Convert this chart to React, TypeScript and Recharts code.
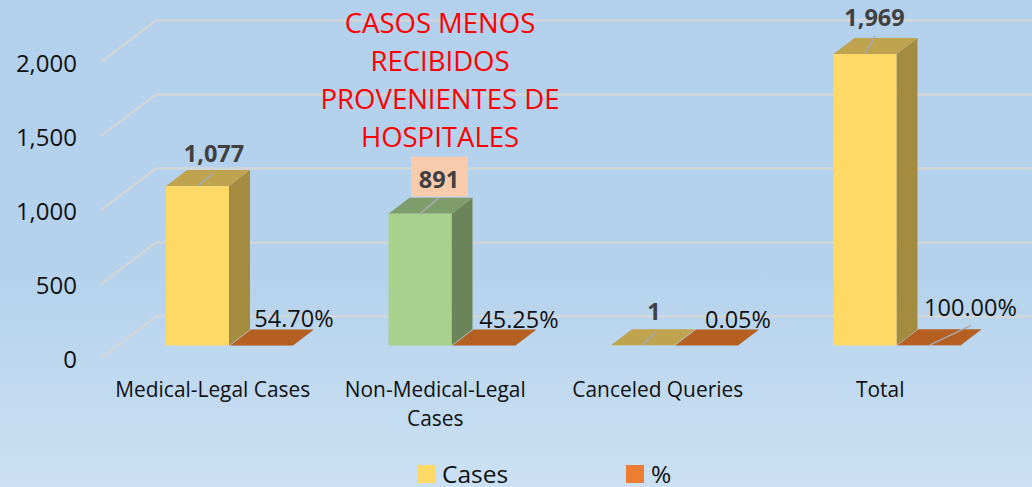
import { Bar, BarChart, CartesianGrid, LabelList, Legend, XAxis, YAxis } from "recharts"

// values
const categories = ["Medical-Legal Cases", "Non-Medical-Legal Cases", "Canceled Queries", "Total"]
const cases = [1077, 891, 1, 1969]
const percent = [0.547, 0.4525, 0.0005, 1]
const yTicks = [0, 500, 1000, 1500, 2000]
const note = ["CASOS MENOS", "RECIBIDOS", "PROVENIENTES DE", "HOSPITALES"]

const data = categories.map((name, i) => ({ name, cases: cases[i], percent: percent[i] }))

const FONT = "'Open Sans', sans-serif"
const DEPTH_X = 21
const DEPTH_Y = 16

// face colours per category for the Cases series
const caseFaces = [
  { front: "#FFD966", top: "#BFA34E", side: "#A38B40" },
  { front: "#A9D18E", top: "#7F9D6B", side: "#6C845A" },
  { front: "#FFD966", top: "#BFA34E", side: "#A38B40" },
  { front: "#FFD966", top: "#BFA34E", side: "#A38B40" },
]
const percentFaces = { front: "#C55A11", top: "#B65F22", side: "#A0521C" }

// hand placed label offsets from the top centre of each bar (dx, dy), leader end optional
const caseLabels = [
  { dx: 16.5, dy: -33, leader: [16, -13] },
  { dx: 19, dy: -35, leader: [19, -16] },
  { dx: 11.5, dy: -34, leader: [13, -13] },
  { dx: 9.5, dy: -37, leader: [10, -18] },
]
const percentLabels = [
  { dx: 32.5, dy: -27 },
  { dx: 35, dy: -26 },
  { dx: 31.5, dy: -26 },
  { dx: 41.5, dy: -38, leader: [42, -20] },
]

function Box3D(props: any) {
  const { x, y, width, height, index, faces } = props
  const f = Array.isArray(faces) ? faces[index] : faces
  const r = x + width
  const b = y + height
  return (
    <g>
      <path d={`M${r},${y}L${r + DEPTH_X},${y - DEPTH_Y}V${b - DEPTH_Y}L${r},${b}Z`} fill={f.side} />
      <path d={`M${x},${y}L${x + DEPTH_X},${y - DEPTH_Y}H${r + DEPTH_X}L${r},${y}Z`} fill={f.top} />
      <rect x={x} y={y} width={width} height={height} fill={f.front} />
    </g>
  )
}

function DataLabel(props: any) {
  const { x, y, width, index, value, offsets, bold, format } = props
  const o = offsets[index]
  const cx = x + width / 2
  const highlighted = bold && index === 1
  return (
    <g>
      {highlighted && <rect x={cx + o.dx - 28} y={y + o.dy - 22} width={57} height={40} fill="#F9CBAD" />}
      {o.leader && (
        <line x1={cx} y1={y} x2={cx + o.leader[0]} y2={y + o.leader[1]} stroke="#A6AAAD" strokeWidth={1.6} />
      )}
      <text
        x={cx + o.dx}
        y={y + o.dy}
        textAnchor="middle"
        dominantBaseline="central"
        fontFamily={FONT}
        fontSize={23.5}
        fontWeight={bold ? 700 : 400}
        fill={bold ? "#404040" : "#111"}
      >
        {format(value)}
      </text>
    </g>
  )
}

// slanted floor edge plus the line along the back wall
function GridLine(props: any) {
  const { y1, index } = props
  return (
    <path
      key={index}
      d={`M101,${y1 + 12.5}L156,${y1 - 29}H1032`}
      fill="none"
      stroke="#D2D6D9"
      strokeWidth={2.4}
    />
  )
}

function CategoryTick(props: any) {
  const { x, y, payload } = props
  const text: string = payload.value
  const lines = text.length > 20 ? [text.slice(0, text.lastIndexOf(" ")), text.slice(text.lastIndexOf(" ") + 1)] : [text]
  return (
    <text x={x - 16.5} y={y + 43} textAnchor="middle" fontFamily={FONT} fontSize={20.9} fill="#111">
      {lines.map((l, i) => (
        <tspan key={l} x={x - 16.5} dy={i === 0 ? 0 : 29}>
          {l}
        </tspan>
      ))}
    </text>
  )
}

function ValueTick(props: any) {
  const { y, payload } = props
  return (
    <text x={77} y={y + 12.5} textAnchor="end" dominantBaseline="central" fontFamily={FONT} fontSize={24} fill="#111">
      {payload.value.toLocaleString("en-US")}
    </text>
  )
}

function LegendRow(props: any) {
  const lefts = [417, 626]
  return (
    <div style={{ position: "relative", height: 27 }}>
      {(props.payload || []).map((item: any, i: number) => (
        <div key={item.value} style={{ position: "absolute", left: lefts[i], top: 0, display: "flex", alignItems: "center" }}>
          <span style={{ width: 18, height: 18, background: item.color, marginRight: 7 }} />
          <span style={{ fontFamily: FONT, fontSize: 24.5, color: "#111", lineHeight: "27px" }}>{item.value}</span>
        </div>
      ))}
    </div>
  )
}

export default function App() {
  return (
    <div
      style={{
        position: "absolute",
        left: 0,
        top: 0,
        width: 1032,
        height: 487,
        overflow: "hidden",
        background: "linear-gradient(180deg, #B3D1EC 0%, #B4D2EC 55%, #CBE0F3 100%)",
      }}
    >
      <BarChart
        width={1032}
        height={487}
        data={data}
        barSize={63}
        barGap={1}
        margin={{ top: 49.5, right: 24, bottom: 0, left: 0 }}
      >
        <CartesianGrid vertical={false} horizontal={GridLine} />
        <XAxis dataKey="name" height={141.5} axisLine={false} tickLine={false} interval={0} tick={CategoryTick} />
        <YAxis width={118} domain={[0, 2000]} ticks={yTicks} axisLine={false} tickLine={false} tick={ValueTick} />
        <Legend
          layout="horizontal"
          align="center"
          verticalAlign="middle"
          itemSorter={null}
          wrapperStyle={{ left: 0, top: 460, width: 1032 }}
          content={LegendRow}
        />
        <Bar
          dataKey="cases"
          name="Cases"
          fill="#FFD966"
          isAnimationActive={false}
          shape={(p: any) => <Box3D {...p} faces={caseFaces} />}
        >
          <LabelList
            dataKey="cases"
            content={(p: any) => (
              <DataLabel {...p} offsets={caseLabels} bold format={(v: number) => v.toLocaleString("en-US")} />
            )}
          />
        </Bar>
        <Bar
          dataKey="percent"
          name="%"
          fill="#ED7D31"
          isAnimationActive={false}
          shape={(p: any) => <Box3D {...p} faces={percentFaces} />}
        >
          <LabelList
            dataKey="percent"
            content={(p: any) => (
              <DataLabel {...p} offsets={percentLabels} format={(v: number) => `${(v * 100).toFixed(2)}%`} />
            )}
          />
        </Bar>
      </BarChart>
      <div
        style={{
          position: "absolute",
          left: 290,
          top: 3.5,
          width: 300,
          textAlign: "center",
          fontFamily: FONT,
          fontSize: 27.5,
          lineHeight: "38.3px",
          color: "#FF0000",
        }}
      >
        {note.map((l) => (
          <div key={l}>{l}</div>
        ))}
      </div>
    </div>
  )
}
